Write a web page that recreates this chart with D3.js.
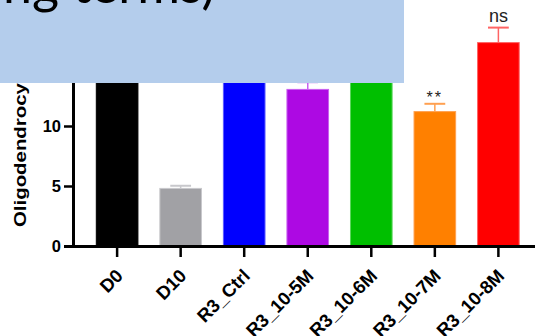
<!DOCTYPE html>
<html>
<head>
<meta charset="utf-8">
<script src="https://cdn.jsdelivr.net/npm/d3@7"></script>
<style>
  html, body { margin: 0; padding: 0; background: #fff; }
  svg { display: block; }
</style>
</head>
<body>
<svg id="chart" width="537" height="336"></svg>
<script>
// Groups, means, SEM and significance marks
const groups = ["D0", "D10", "R3_Ctrl", "R3_10-5M", "R3_10-6M", "R3_10-7M", "R3_10-8M"];
const means  = [16.2, 4.8, 15.6, 13.05, 15.2, 11.2, 16.95];
const sems   = [0.7, 0.22, 0.8, 0.6, 0.7, 0.65, 1.25];
const marks  = ["", "", "", "", "", "**", "ns"];
const colors = ["#000000", "#a1a1a5", "#0000ff", "#ad09e3", "#00bf00", "#ff8000", "#ff0000"];
const edges  = ["#000000", "#c8c8cc", "#5c5cff", "#c860f0", "#5cd65c", "#ffa050", "#ff6464"];
const yTicks = [0, 5, 10, 15, 20];

const svg = d3.select("#chart");

const x = d3.scaleBand()
  .domain(groups)
  .range([85.5, 530])
  .paddingInner(0.345)
  .paddingOuter(0.17);

const y = d3.scaleLinear().domain([0, 20]).range([246, 6]);

const data = groups.map((g, i) => ({
  g, mean: means[i], sem: sems[i], mark: marks[i], color: colors[i], edge: edges[i]
}));

// Bars
svg.append("g").selectAll("rect").data(data).join("rect")
  .attr("x", d => x(d.g))
  .attr("y", d => y(d.mean))
  .attr("width", x.bandwidth())
  .attr("height", d => y(0) - y(d.mean))
  .attr("fill", d => d.color)
  .attr("stroke", d => d.edge)
  .attr("stroke-width", 1);

// Error bars (upper half only)
const capW = x.bandwidth() * 0.5;
const err = svg.append("g").selectAll("g").data(data).join("g");
err.append("line")
  .attr("x1", d => x(d.g) + x.bandwidth() / 2)
  .attr("x2", d => x(d.g) + x.bandwidth() / 2)
  .attr("y1", d => y(d.mean))
  .attr("y2", d => y(d.mean + d.sem))
  .attr("stroke", d => d.edge)
  .attr("stroke-width", 1.5);
err.append("line")
  .attr("x1", d => x(d.g) + x.bandwidth() / 2 - capW / 2)
  .attr("x2", d => x(d.g) + x.bandwidth() / 2 + capW / 2)
  .attr("y1", d => y(d.mean + d.sem))
  .attr("y2", d => y(d.mean + d.sem))
  .attr("stroke", d => d.edge)
  .attr("stroke-width", 2);

// Significance marks above the error bars
svg.append("g").selectAll("text").data(data.filter(d => d.mark)).join("text")
  .attr("x", d => x(d.g) + x.bandwidth() / 2)
  .attr("y", d => y(d.mean + d.sem) - 6)
  .attr("dy", d => d.mark.startsWith("*") ? "0.3em" : 0)
  .attr("text-anchor", "middle")
  .attr("font-family", "Liberation Sans, Arial, sans-serif")
  .attr("font-size", d => d.mark.startsWith("*") ? 16 : 18)
  .attr("letter-spacing", d => d.mark.startsWith("*") ? 2 : 0)
  .attr("fill", "#222")
  .text(d => d.mark);

// Y axis
const yAxis = svg.append("g")
  .attr("transform", "translate(73,0)")
  .call(d3.axisLeft(y).tickValues(yTicks).tickSize(9).tickPadding(3).tickFormat(d3.format("d")));
yAxis.select(".domain").attr("stroke", "#000").attr("stroke-width", 3);
yAxis.selectAll(".tick line").attr("stroke", "#000").attr("stroke-width", 2.5);
yAxis.selectAll(".tick text")
  .attr("font-family", "Liberation Sans, Arial, sans-serif")
  .attr("font-weight", "bold")
  .attr("font-size", 16.5)
  .attr("fill", "#000");

// X axis
const xAxis = svg.append("g")
  .attr("transform", "translate(0,246)")
  .call(d3.axisBottom(x).tickSize(11).tickSizeOuter(0).tickFormat(""));
xAxis.select(".domain").attr("d", "M72,0.5H535").attr("stroke", "#000").attr("stroke-width", 3);
xAxis.selectAll(".tick line").attr("stroke", "#000").attr("stroke-width", 2.5);

svg.append("g").selectAll("text").data(groups).join("text")
  .attr("transform", g => `translate(${x(g) + x.bandwidth() / 2 + 7},277) rotate(-45)`)
  .attr("text-anchor", "end")
  .attr("font-family", "Liberation Sans, Arial, sans-serif")
  .attr("font-weight", "bold")
  .attr("font-size", 18.5)
  .attr("fill", "#000")
  .text(g => g);

// Y axis title
svg.append("text")
  .attr("transform", "translate(26,227) rotate(-90) scale(1.2,1)")
  .attr("font-family", "Liberation Sans, Arial, sans-serif")
  .attr("font-weight", "bold")
  .attr("font-size", 17)
  .attr("fill", "#000")
  .text("Oligodendrocytes (%)");

// Caption panel laid over the upper part of the plot
svg.append("rect")
  .attr("x", 0).attr("y", 0)
  .attr("width", 404).attr("height", 83)
  .attr("fill", "#b4cdec");
svg.append("text")
  .attr("x", 3).attr("y", 3)
  .attr("font-family", "Lato, 'Noto Sans', sans-serif")
  .attr("font-size", 52)
  .attr("fill", "#000")
  .text("ng terms)");
</script>
</body>
</html>
